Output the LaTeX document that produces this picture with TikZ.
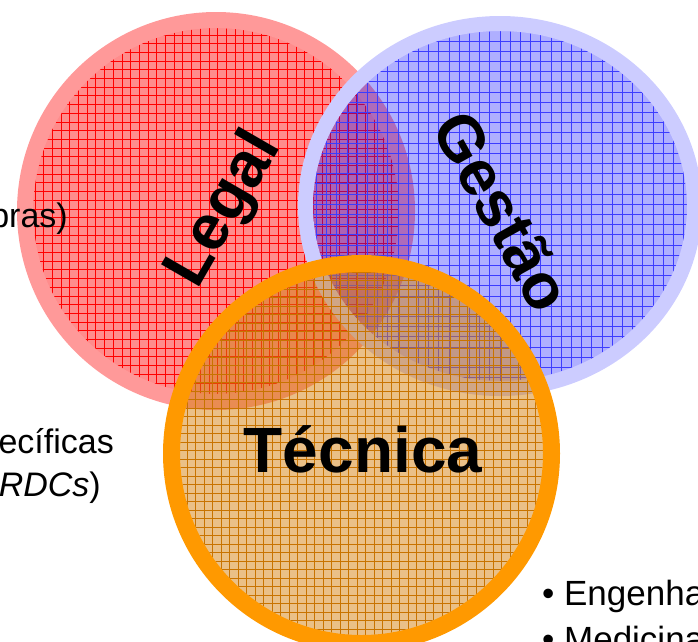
\documentclass[tikz,border=0pt]{standalone}
\usepackage{fontspec}
\setmainfont{Liberation Sans}
\usepackage{xcolor}

\definecolor{legalring}{RGB}{255,153,153}
\definecolor{legalfill}{RGB}{255,0,0}
\definecolor{legalgrid}{RGB}{255,0,0}
\definecolor{gestaoring}{RGB}{204,204,255}
\definecolor{gestaofill}{RGB}{20,20,255}
\definecolor{gestaogrid}{RGB}{60,60,255}
\definecolor{tecnicaring}{RGB}{255,153,0}
\definecolor{tecnicafill}{RGB}{213,129,15}
\definecolor{tecnicagrid}{RGB}{200,115,0}

\tikzset{
    title/.style = {font=\fontsize{64}{70}\selectfont\bfseries, inner sep=0pt},
    side/.style = {font=\fontsize{34}{40}\selectfont, inner sep=0pt},
    bullet/.style = {font=\fontsize{35}{42}\selectfont, inner sep=0pt},
}

\begin{document}
\begin{tikzpicture}[x=1pt, y=1pt]
        \useasboundingbox (0,0) rectangle (698,-641);
        \clip (0,0) rectangle (698,-641);

        \coordinate (L) at (216,-211);
        \coordinate (G) at (500,-206);
        \coordinate (T) at (361.5,-453.5);

        % Legal
        \fill[legalfill, opacity=0.45] (L) circle (191pt);
        \begin{scope}
            \clip (L) circle (183pt);
            \draw[legalgrid, line width=0.55pt, step=8.7pt] (0,-20) grid (420,-420);
        \end{scope}
        \draw[legalring, line width=16pt] (L) circle (191pt);

        % Gestao
        \fill[gestaofill, opacity=0.34] (G) ellipse [x radius=194.5pt, y radius=182.5pt];
        \begin{scope}
            \clip (G) ellipse [x radius=187pt, y radius=175pt];
            \draw[gestaogrid, line width=0.55pt, step=10.2pt] (300,0) grid (700,-400);
        \end{scope}
        \draw[gestaoring, line width=15pt] (G) ellipse [x radius=194.5pt, y radius=182.5pt];

        % Tecnica
        \fill[tecnicafill, opacity=0.5] (T) circle (190pt);
        \begin{scope}
            \clip (T) circle (181.5pt);
            \draw[tecnicagrid, line width=0.55pt, step=8.5pt] (170,-260) grid (560,-641);
        \end{scope}
        \draw[tecnicaring, line width=17pt] (T) circle (190pt);

        \node[title, rotate=60] (legal) at (225,-210) {Legal};
        \node[title, rotate=-61] (gestao) at (503,-211) {Gestão};
        \node[title, anchor=base] (tecnica) at (363,-472) {Técnica};

        % textos cortados na borda
        \node[side, anchor=base east] (obras) at (68,-227) {bras)};
        \node[side, anchor=base east] (especificas) at (114,-453) {ecíficas};
        \node[side, anchor=base east] (rdcs) at (101,-496) {\textit{RDCs})};
        \node[bullet, anchor=base west] (engenharia) at (542,-605) {• Engenha};
        \node[bullet, anchor=base west] (medicina) at (542,-651) {• Medicina};
    \end{tikzpicture}
\end{document}
